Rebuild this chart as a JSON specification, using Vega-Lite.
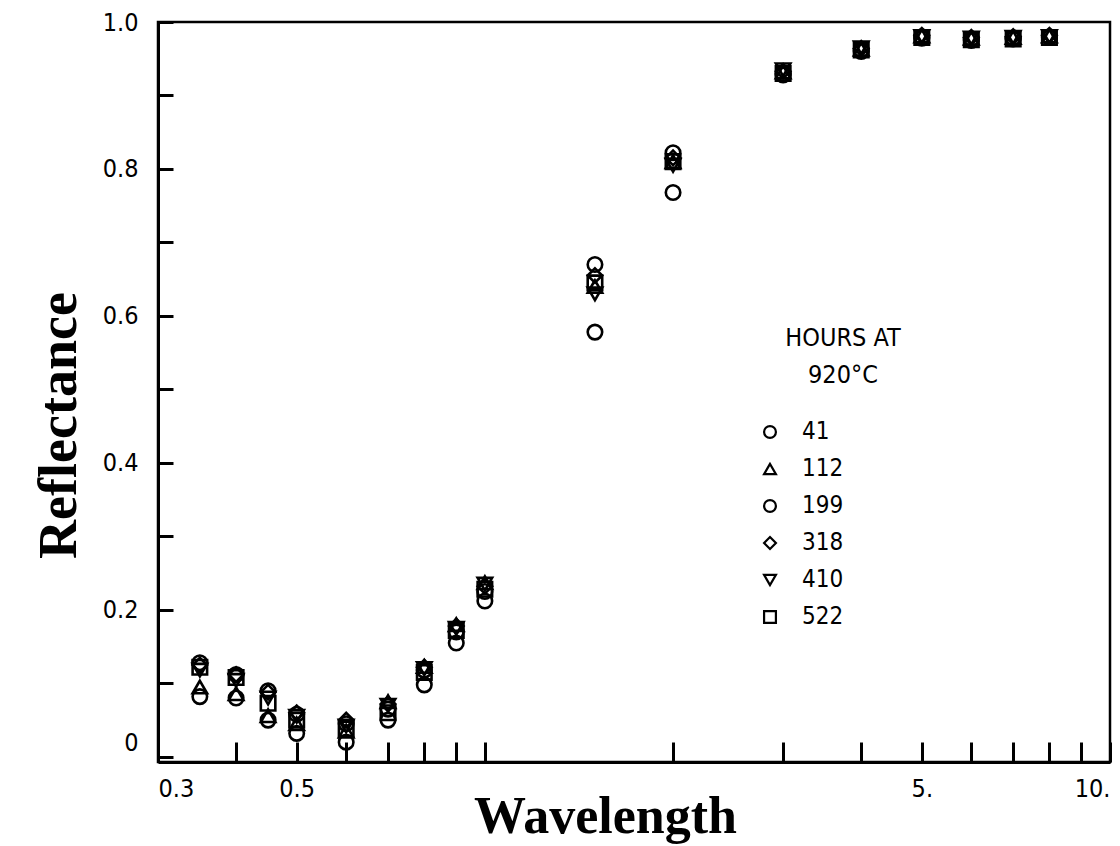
{
  "$schema": "https://vega.github.io/schema/vega-lite/v6.json",
  "width": 952,
  "height": 740,
  "autosize": "none",
  "padding": {"left": 158, "top": 22, "right": 10, "bottom": 84},
  "background": "white",
  "config": {
    "view": {"stroke": "black", "strokeWidth": 2.5},
    "axis": {
      "domainColor": "black",
      "domainWidth": 3,
      "tickColor": "black",
      "tickWidth": 3,
      "grid": false,
      "labelFont": "Liberation Sans Narrow, DejaVu Sans Condensed, sans-serif",
      "labelFontSize": 25,
      "labelColor": "black",
      "titleFont": "Liberation Serif, Times New Roman, serif",
      "titleFontWeight": "bold",
      "titleColor": "black"
    },
    "legend": {
      "titleFont": "Liberation Sans Narrow, DejaVu Sans Condensed, sans-serif",
      "labelFont": "Liberation Sans Narrow, DejaVu Sans Condensed, sans-serif"
    }
  },
  "data": {
    "values": [
      {"w": 0.35, "h": "41", "r": 0.082}, {"w": 0.35, "h": "112", "r": 0.095}, {"w": 0.35, "h": "199", "r": 0.128}, {"w": 0.35, "h": "318", "r": 0.125}, {"w": 0.35, "h": "410", "r": 0.118}, {"w": 0.35, "h": "522", "r": 0.122},
      {"w": 0.4, "h": "41", "r": 0.08}, {"w": 0.4, "h": "112", "r": 0.086}, {"w": 0.4, "h": "199", "r": 0.112}, {"w": 0.4, "h": "318", "r": 0.112}, {"w": 0.4, "h": "410", "r": 0.104}, {"w": 0.4, "h": "522", "r": 0.108},
      {"w": 0.45, "h": "41", "r": 0.05}, {"w": 0.45, "h": "112", "r": 0.056}, {"w": 0.45, "h": "199", "r": 0.09}, {"w": 0.45, "h": "318", "r": 0.088}, {"w": 0.45, "h": "410", "r": 0.08}, {"w": 0.45, "h": "522", "r": 0.073},
      {"w": 0.5, "h": "41", "r": 0.032}, {"w": 0.5, "h": "112", "r": 0.045}, {"w": 0.5, "h": "199", "r": 0.058}, {"w": 0.5, "h": "318", "r": 0.06}, {"w": 0.5, "h": "410", "r": 0.055}, {"w": 0.5, "h": "522", "r": 0.05},
      {"w": 0.6, "h": "41", "r": 0.02}, {"w": 0.6, "h": "112", "r": 0.035}, {"w": 0.6, "h": "199", "r": 0.045}, {"w": 0.6, "h": "318", "r": 0.05}, {"w": 0.6, "h": "410", "r": 0.042}, {"w": 0.6, "h": "522", "r": 0.038},
      {"w": 0.7, "h": "41", "r": 0.05}, {"w": 0.7, "h": "112", "r": 0.075}, {"w": 0.7, "h": "199", "r": 0.065}, {"w": 0.7, "h": "318", "r": 0.072}, {"w": 0.7, "h": "410", "r": 0.07}, {"w": 0.7, "h": "522", "r": 0.06},
      {"w": 0.8, "h": "41", "r": 0.098}, {"w": 0.8, "h": "112", "r": 0.123}, {"w": 0.8, "h": "199", "r": 0.118}, {"w": 0.8, "h": "318", "r": 0.122}, {"w": 0.8, "h": "410", "r": 0.12}, {"w": 0.8, "h": "522", "r": 0.115},
      {"w": 0.9, "h": "41", "r": 0.155}, {"w": 0.9, "h": "112", "r": 0.18}, {"w": 0.9, "h": "199", "r": 0.17}, {"w": 0.9, "h": "318", "r": 0.178}, {"w": 0.9, "h": "410", "r": 0.175}, {"w": 0.9, "h": "522", "r": 0.172},
      {"w": 1.0, "h": "41", "r": 0.212}, {"w": 1.0, "h": "112", "r": 0.237}, {"w": 1.0, "h": "199", "r": 0.225}, {"w": 1.0, "h": "318", "r": 0.232}, {"w": 1.0, "h": "410", "r": 0.235}, {"w": 1.0, "h": "522", "r": 0.228},
      {"w": 1.5, "h": "41", "r": 0.578}, {"w": 1.5, "h": "112", "r": 0.64}, {"w": 1.5, "h": "199", "r": 0.67}, {"w": 1.5, "h": "318", "r": 0.655}, {"w": 1.5, "h": "410", "r": 0.63}, {"w": 1.5, "h": "522", "r": 0.645},
      {"w": 2.0, "h": "41", "r": 0.768}, {"w": 2.0, "h": "112", "r": 0.81}, {"w": 2.0, "h": "199", "r": 0.822}, {"w": 2.0, "h": "318", "r": 0.815}, {"w": 2.0, "h": "410", "r": 0.805}, {"w": 2.0, "h": "522", "r": 0.81},
      {"w": 3.0, "h": "41", "r": 0.928}, {"w": 3.0, "h": "112", "r": 0.932}, {"w": 3.0, "h": "199", "r": 0.93}, {"w": 3.0, "h": "318", "r": 0.933}, {"w": 3.0, "h": "410", "r": 0.935}, {"w": 3.0, "h": "522", "r": 0.93},
      {"w": 4.0, "h": "41", "r": 0.96}, {"w": 4.0, "h": "112", "r": 0.963}, {"w": 4.0, "h": "199", "r": 0.962}, {"w": 4.0, "h": "318", "r": 0.964}, {"w": 4.0, "h": "410", "r": 0.965}, {"w": 4.0, "h": "522", "r": 0.962},
      {"w": 5.0, "h": "41", "r": 0.978}, {"w": 5.0, "h": "112", "r": 0.981}, {"w": 5.0, "h": "199", "r": 0.98}, {"w": 5.0, "h": "318", "r": 0.982}, {"w": 5.0, "h": "410", "r": 0.98}, {"w": 5.0, "h": "522", "r": 0.979},
      {"w": 6.0, "h": "41", "r": 0.975}, {"w": 6.0, "h": "112", "r": 0.978}, {"w": 6.0, "h": "199", "r": 0.977}, {"w": 6.0, "h": "318", "r": 0.979}, {"w": 6.0, "h": "410", "r": 0.978}, {"w": 6.0, "h": "522", "r": 0.976},
      {"w": 7.0, "h": "41", "r": 0.977}, {"w": 7.0, "h": "112", "r": 0.979}, {"w": 7.0, "h": "199", "r": 0.978}, {"w": 7.0, "h": "318", "r": 0.98}, {"w": 7.0, "h": "410", "r": 0.979}, {"w": 7.0, "h": "522", "r": 0.977},
      {"w": 8.0, "h": "41", "r": 0.979}, {"w": 8.0, "h": "112", "r": 0.981}, {"w": 8.0, "h": "199", "r": 0.98}, {"w": 8.0, "h": "318", "r": 0.982}, {"w": 8.0, "h": "410", "r": 0.98}, {"w": 8.0, "h": "522", "r": 0.979}
    ]
  },
  "mark": {"type": "point", "filled": false, "color": "black", "strokeWidth": 2.6, "size": 210, "opacity": 1},
  "encoding": {
    "x": {
      "field": "w",
      "type": "quantitative",
      "scale": {"type": "log", "domain": [0.3, 10], "nice": false},
      "axis": {
        "title": "Wavelength",
        "titleFontSize": 52,
        "titleX": 447,
        "titleY": 70,
        "titleBaseline": "alphabetic",
        "titleAnchor": null,
        "values": [0.3, 0.4, 0.5, 0.6, 0.7, 0.8, 0.9, 1, 2, 3, 4, 5, 6, 7, 8, 9, 10],
        "labelExpr": "datum.value == 0.3 ? '0.3' : datum.value == 0.5 ? '0.5' : datum.value == 5 ? '5.' : datum.value == 10 ? '10.' : ''",
        "labelFlush": true,
        "labelOverlap": false,
        "tickSize": -20,
        "labelPadding": 34
      }
    },
    "y": {
      "field": "r",
      "type": "quantitative",
      "scale": {"domain": [-0.007, 1.0], "nice": false, "zero": false},
      "axis": {
        "title": "Reflectance",
        "titleFontSize": 54,
        "titleX": -83,
        "titleY": 403,
        "titleBaseline": "alphabetic",
        "titleAnchor": null,
        "values": [0, 0.1, 0.2, 0.3, 0.4, 0.5, 0.6, 0.7, 0.8, 0.9, 1.0],
        "labelExpr": "datum.value == 0 ? '0' : datum.value == 0.2 ? '0.2' : datum.value == 0.4 ? '0.4' : datum.value == 0.6 ? '0.6' : datum.value == 0.8 ? '0.8' : datum.value == 1 ? '1.0' : ''",
        "labelOffset": {"condition": {"test": "datum.value == 0", "value": -14}, "value": 0},
        "labelOverlap": false,
        "labelFlush": false,
        "tickSize": -15,
        "labelPadding": 35
      }
    },
    "shape": {
      "field": "h",
      "type": "nominal",
      "scale": {
        "domain": ["41", "112", "199", "318", "410", "522"],
        "range": ["circle", "triangle-up", "circle", "diamond", "triangle-down", "square"]
      },
      "legend": {
        "orient": "none",
        "legendX": 600,
        "legendY": 304,
        "title": ["HOURS AT", "920°C"],
        "titleFontSize": 25,
        "titleFontWeight": "normal",
        "titleColor": "black",
        "titleLineHeight": 37,
        "titleAnchor": "end",
        "titleAlign": "center",
        "titlePadding": 32,
        "labelFontSize": 24,
        "labelColor": "black",
        "labelOffset": 20,
        "labelExpr": "length(datum.label) < 3 ? '\u2007' + datum.label : datum.label",
        "symbolSize": 140,
        "symbolStrokeWidth": 2.2,
        "symbolStrokeColor": "black",
        "symbolFillColor": "transparent",
        "rowPadding": 13,
        "padding": 0
      }
    }
  }
}
